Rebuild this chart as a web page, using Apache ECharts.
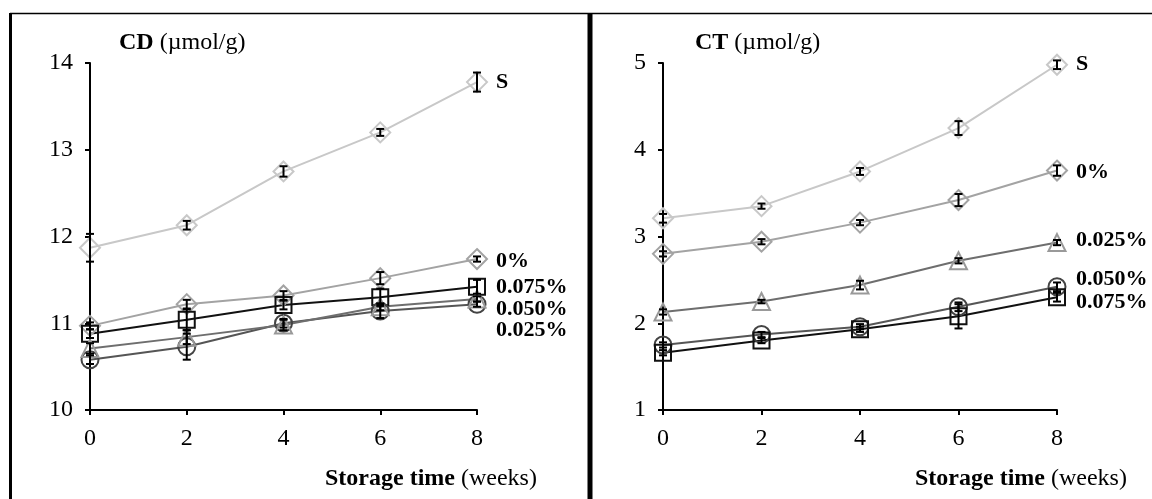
<!DOCTYPE html>
<html>
<head>
<meta charset="utf-8">
<script src="https://cdn.jsdelivr.net/npm/echarts@6/dist/echarts.min.js"></script>
<style>
  html, body { margin: 0; padding: 0; background: #fff; }
  #chart { width: 1152px; height: 499px; }
</style>
</head>
<body>
<div id="chart"></div>
<script>
// 储存时间（周）
const weeks = [0, 2, 4, 6, 8]
const xTicks = [0, 2, 4, 6, 8]
const groups = ['S', '0%', '0.025%', '0.050%', '0.075%']

// CD (µmol/g)
const cdS = [11.87, 12.13, 12.75, 13.2, 13.78]
const cd0 = [10.97, 11.22, 11.32, 11.52, 11.74]
const cd025 = [10.71, 10.84, 10.98, 11.19, 11.28]
const cd050 = [10.58, 10.73, 11.0, 11.14, 11.22]
const cd075 = [10.88, 11.04, 11.21, 11.3, 11.42]
const cdErrS = [0.16, 0.05, 0.06, 0.04, 0.11]
const cdErr0 = [0.04, 0.05, 0.05, 0.07, 0.03]
const cdErr025 = [0.06, 0.08, 0.06, 0.04, 0.03]
const cdErr050 = [0.05, 0.15, 0.05, 0.08, 0.03]
const cdErr075 = [0.05, 0.12, 0.05, 0.1, 0.08]

// CT (µmol/g)
const ctS = [3.21, 3.35, 3.75, 4.25, 4.98]
const ct0 = [2.8, 2.94, 3.16, 3.42, 3.76]
const ct025 = [2.13, 2.25, 2.44, 2.72, 2.93]
const ct050 = [1.75, 1.87, 1.96, 2.19, 2.42]
const ct075 = [1.66, 1.8, 1.93, 2.08, 2.3]
const ctErrS = [0.05, 0.03, 0.04, 0.08, 0.05]
const ctErr0 = [0.03, 0.03, 0.03, 0.07, 0.06]
const ctErr025 = [0.03, 0.02, 0.05, 0.03, 0.03]
const ctErr050 = [0.03, 0.03, 0.03, 0.05, 0.05]
const ctErr075 = [0.03, 0.03, 0.03, 0.14, 0.05]

const FONT = 'Liberation Serif'

const styles = {
    'S': { line: '#c8c8c8', mark: '#c8c8c8', symbol: 'diamond', size: 20 },
    '0%': { line: '#a3a3a3', mark: '#a3a3a3', symbol: 'diamond', size: 20 },
    '0.025%': { line: '#6e6e6e', mark: '#999', symbol: 'triangle', size: 17 },
    '0.050%': { line: '#555', mark: '#444', symbol: 'circle', size: 17 },
    '0.075%': { line: '#111', mark: '#111', symbol: 'rect', size: 16 },
}

function lineSeries(idx, name, values, labelDy) {
    const s = styles[name]
    return {
        name: name + '-' + idx,
        type: 'line',
        xAxisIndex: idx,
        yAxisIndex: idx,
        data: weeks.map((w, i) => [w, values[i]]),
        symbol: s.symbol,
        symbolSize: s.size,
        showAllSymbol: true,
        lineStyle: { color: s.line, width: 2 },
        itemStyle: { color: 'transparent', borderColor: s.mark, borderWidth: 2 },
        endLabel: {
            show: true,
            formatter: name,
            distance: 19,
            offset: [0, labelDy],
            fontFamily: FONT,
            fontWeight: 'bold',
            fontSize: 22,
            color: '#000',
        },
        emphasis: { disabled: true },
        animation: false,
        z: 3,
    }
}

function errSeries(idx, values, errs) {
    return {
        type: 'custom',
        xAxisIndex: idx,
        yAxisIndex: idx,
        data: weeks.map((w, i) => [w, values[i] - errs[i], values[i] + errs[i]]),
        renderItem(params, api) {
            const lo = api.coord([api.value(0), api.value(1)])
            const hi = api.coord([api.value(0), api.value(2)])
            const cap = 4
            const st = { stroke: '#000', lineWidth: 2 }
            return {
                type: 'group',
                children: [
                    { type: 'line', shape: { x1: lo[0], y1: lo[1], x2: hi[0], y2: hi[1] }, style: st },
                    { type: 'line', shape: { x1: lo[0] - cap, y1: lo[1], x2: lo[0] + cap, y2: lo[1] }, style: st },
                    { type: 'line', shape: { x1: hi[0] - cap, y1: hi[1], x2: hi[0] + cap, y2: hi[1] }, style: st },
                ],
            }
        },
        animation: false,
        silent: true,
        z: 4,
    }
}

function xAxis(idx) {
    return {
        type: 'value', gridIndex: idx, min: 0, max: 8, interval: 2,
        axisLine: { lineStyle: { color: '#000', width: 2 } },
        axisTick: { show: true, inside: false, length: 5, lineStyle: { color: '#000', width: 2 } },
        axisLabel: { fontFamily: FONT, fontSize: 24, color: '#000', margin: 17,
            formatter: (v) => xTicks.includes(v) ? String(v) : '' },
        splitLine: { show: false },
    }
}

function yAxis(idx, min, max) {
    return {
        type: 'value', gridIndex: idx, min: min, max: max, interval: 1,
        axisLine: { show: true, lineStyle: { color: '#000', width: 2 } },
        axisTick: { show: true, inside: false, length: 5, lineStyle: { color: '#000', width: 2 } },
        axisLabel: { fontFamily: FONT, fontSize: 24, color: '#000', margin: 17 },
        splitLine: { show: false },
    }
}

const rich = {
    b: { fontFamily: FONT, fontSize: 24, fontWeight: 'bold', fill: '#000', color: '#000' },
    n: { fontFamily: FONT, fontSize: 24, fontWeight: 'normal', fill: '#000', color: '#000' },
}

function caption(text, x, y) {
    return { type: 'text', x: x, y: y, style: { text: text, rich: rich, fill: '#000', font: '24px "Liberation Serif"' }, z: 10 }
}

const chart = echarts.init(document.getElementById('chart'), null, { renderer: 'canvas' })
chart.setOption({
    backgroundColor: '#fff',
    animation: false,
    grid: [
        { left: 90, right: 675, top: 63, bottom: 89 },
        { left: 663, right: 95, top: 63, bottom: 89 },
    ],
    xAxis: [xAxis(0), xAxis(1)],
    yAxis: [yAxis(0, 10, 14), yAxis(1, 1, 5)],
    graphic: [
        { type: 'line', shape: { x1: 10, y1: 13.5, x2: 1152, y2: 13.5 }, style: { stroke: '#000', lineWidth: 1.5 } },
        { type: 'line', shape: { x1: 10.5, y1: 13, x2: 10.5, y2: 499 }, style: { stroke: '#000', lineWidth: 3 } },
        { type: 'line', shape: { x1: 590, y1: 13, x2: 590, y2: 499 }, style: { stroke: '#000', lineWidth: 5 } },
        caption('{b|CD} {n|(µmol/g)}', 119, 31),
        caption('{b|CT} {n|(µmol/g)}', 695, 31),
        caption('{b|Storage time} {n|(weeks)}', 325, 467),
        caption('{b|Storage time} {n|(weeks)}', 915, 467),
    ],
    series: [
        lineSeries(0, 'S', cdS, 0),
        lineSeries(0, '0%', cd0, 2),
        lineSeries(0, '0.075%', cd075, 0),
        lineSeries(0, '0.050%', cd050, 5),
        lineSeries(0, '0.025%', cd025, 31),
        errSeries(0, cdS, cdErrS),
        errSeries(0, cd0, cdErr0),
        errSeries(0, cd025, cdErr025),
        errSeries(0, cd050, cdErr050),
        errSeries(0, cd075, cdErr075),

        lineSeries(1, 'S', ctS, 0),
        lineSeries(1, '0%', ct0, 2),
        lineSeries(1, '0.025%', ct025, -2),
        lineSeries(1, '0.050%', ct050, -8),
        lineSeries(1, '0.075%', ct075, 5),
        errSeries(1, ctS, ctErrS),
        errSeries(1, ct0, ctErr0),
        errSeries(1, ct025, ctErr025),
        errSeries(1, ct050, ctErr050),
        errSeries(1, ct075, ctErr075),
    ],
})
</script>
</body>
</html>
